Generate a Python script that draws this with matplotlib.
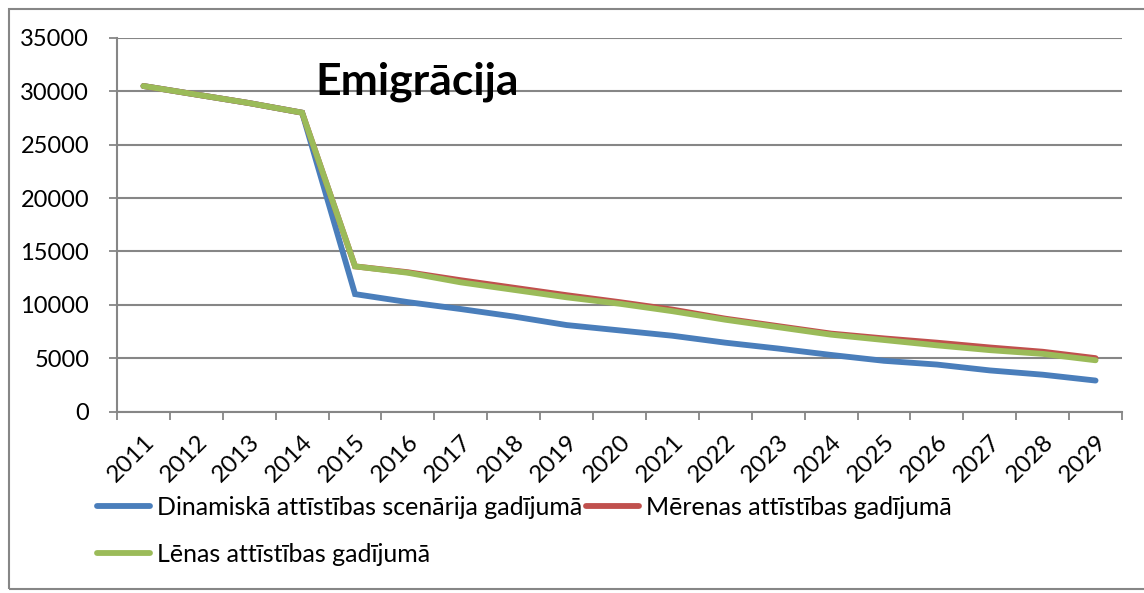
import matplotlib
matplotlib.use("Agg")
import matplotlib.pyplot as plt
from matplotlib.patches import Rectangle

plt.rcParams['font.family'] = ['Lato', 'DejaVu Sans']

years = [str(y) for y in range(2011, 2030)]
dinamiska = [30500, 29700, 28900, 28000, 11000, 10250, 9600, 8900, 8100, 7600,
             7100, 6450, 5900, 5300, 4750, 4400, 3850, 3450, 2900]
merenas = [30500, 29700, 28900, 28000, 13600, 13050, 12300, 11600, 10900, 10250,
           9550, 8700, 8000, 7300, 6850, 6450, 6000, 5600, 5000]
lenas = [30500, 29700, 28900, 28000, 13600, 13000, 12100, 11400, 10700, 10100,
         9400, 8600, 7900, 7200, 6700, 6200, 5750, 5400, 4800]
labels = ["Dinamiskā attīstības scenārija gadījumā",
          "Mērenas attīstības gadījumā",
          "Lēnas attīstības gadījumā"]
colors = ["#4A7EBB", "#C0504D", "#9BBB59"]
yticks = [0, 5000, 10000, 15000, 20000, 25000, 30000, 35000]
title = "Emigrācija"

W, H = 1144, 593
fig = plt.figure(figsize=(W / 100, H / 100), dpi=100)
ax = fig.add_axes([117 / W, 1 - 411.5 / H, (1122 - 117) / W, (411.5 - 38) / H])

x = list(range(len(years)))
lines = []
for vals, lab, col in zip([dinamiska, merenas, lenas], labels, colors):
    ln, = ax.plot(x, vals, color=col, lw=4.2, solid_capstyle='round',
                  solid_joinstyle='miter', label=lab)
    lines.append(ln)

grid_col = "#868686"
ax.set_xlim(-0.5, len(years) - 0.5)
ax.set_ylim(0, 35000)
ax.set_yticks(yticks)
ax.set_yticklabels([str(v) for v in yticks])
ax.yaxis.grid(True, color=grid_col, lw=1.5)
ax.set_axisbelow(True)
ax.set_xticks(x)
ax.set_xticklabels(years, rotation=45, ha='right', rotation_mode='anchor')
ax.set_xticks([i - 0.5 for i in range(len(years) + 1)], minor=True)
ax.tick_params(axis='x', which='major', length=0, pad=14, labelsize=17.5)
ax.tick_params(axis='x', which='minor', length=6, width=1.3, color=grid_col, direction='out')
ax.tick_params(axis='y', length=6, width=1.3, color=grid_col, labelsize=17, pad=14)
for s in ['top', 'right']:
    ax.spines[s].set_visible(False)
for s in ['left', 'bottom']:
    ax.spines[s].set_color(grid_col)
    ax.spines[s].set_linewidth(1.5)

fig.text(315 / W, 1 - 95 / H, title, fontsize=32, fontweight='bold', ha='left', va='baseline')

handles = [lines[0], lines[2], lines[1]]
labs = [labels[0], labels[2], labels[1]]
fig.legend(handles, labs, loc='upper left', bbox_to_anchor=(97 / W, 1 - 496 / H),
           ncol=2, frameon=False, fontsize=18, borderpad=0, handlelength=2.12,
           handletextpad=0.28, columnspacing=0.16, labelspacing=0.96, borderaxespad=0)

fig.patches.append(Rectangle((9 / W, 1 - 589 / H), 1.2, (589 - 9) / H,
                             transform=fig.transFigure, fill=False,
                             edgecolor=grid_col, lw=1.5))

fig.savefig("out.png", dpi=100)
